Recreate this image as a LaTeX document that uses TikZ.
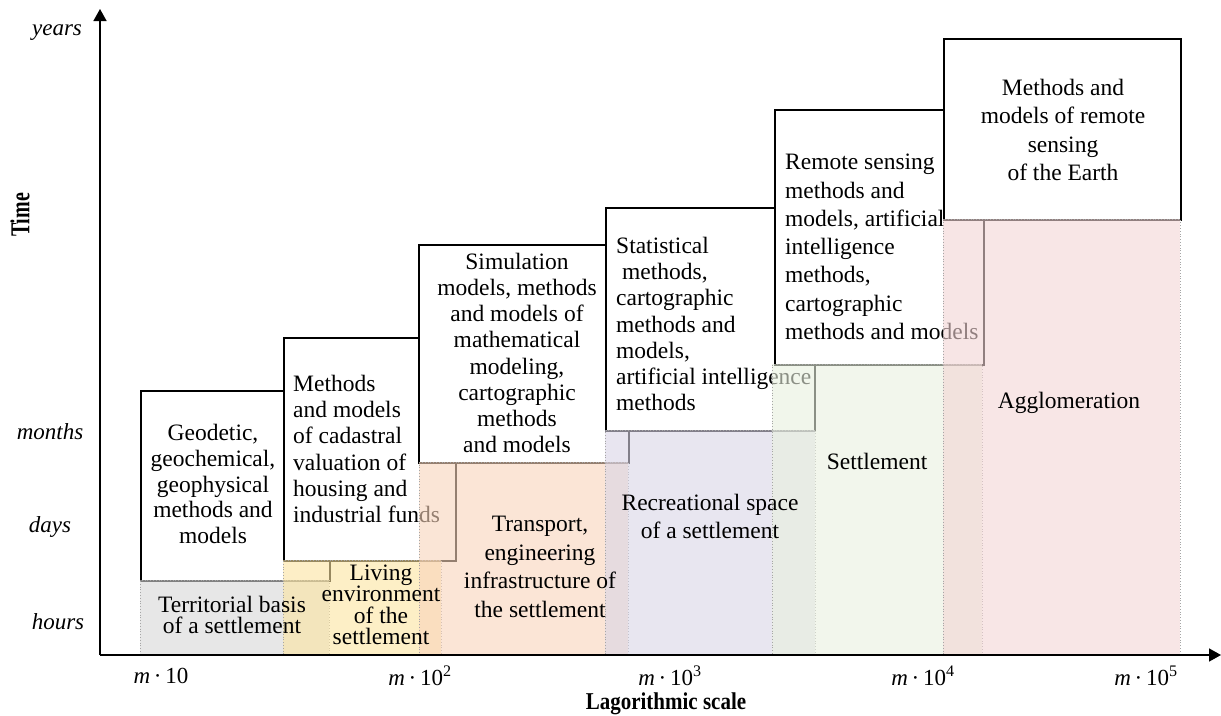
\documentclass[tikz,border=0pt]{standalone}
\usepackage{fontspec}
\usepackage{graphicx}
\setmainfont{Liberation Serif}
\usetikzlibrary{arrows.meta}
\definecolor{zgray}{RGB}{215,215,215}
\definecolor{zyellow}{RGB}{252,228,160}
\definecolor{zorange}{RGB}{248,212,187}
\definecolor{zpurple}{RGB}{217,213,230}
\definecolor{zgreen}{RGB}{233,240,223}
\definecolor{zpink}{RGB}{243,213,213}
\begin{document}
\begin{tikzpicture}[x=1pt,y=-1pt,
  mbox/.style={draw=black, line width=1.8pt, fill=white, inner sep=0pt, anchor=north west},
  zone/.style={draw=gray!70, dotted, line width=0.8pt, fill opacity=0.6, inner sep=0pt, anchor=north west},
  txt/.style={inner sep=0pt, font=\fontsize{23.5}{#1}\selectfont},
  txt/.default=26,
  axlab/.style={inner sep=0pt, font=\fontsize{23}{26}\selectfont\itshape},
  ticklab/.style={inner sep=0pt, font=\fontsize{23}{26}\selectfont},
  axtitle/.style={inner sep=0pt, font=\fontsize{21}{24}\selectfont\bfseries},
  axis/.style={line width=1.6pt, -{Triangle[length=12pt,width=13pt]}}]
\useasboundingbox (0,0) rectangle (1221,715);

% method boxes
\node[mbox, minimum width=189pt, minimum height=190pt] (geo) at (140,390) {};
\node[txt=25.7, align=center] (geot) at (213,484) {Geodetic,\\geochemical,\\geophysical\\methods and\\models};

\node[mbox, minimum width=172pt, minimum height=223pt] (cad) at (283,337) {};
\node[txt=26.3, align=left, anchor=west] (cadt) at (293,449) {Methods\\and models\\of cadastral\\valuation of\\housing and\\industrial funds};

\node[mbox, minimum width=210pt, minimum height=218pt] (sim) at (418,244) {};
\node[txt=26.2, align=center] (simt) at (517,353) {Simulation\\models, methods\\and models of\\mathematical\\modeling,\\cartographic\\methods\\and models};

\node[mbox, minimum width=209pt, minimum height=223pt] (stat) at (605,207) {};
\node[txt=26.3, align=left, anchor=west] (statt) at (616,324) {Statistical\\\hspace*{6pt}methods,\\cartographic\\methods and\\models,\\artificial intelligence\\methods};

\node[mbox, minimum width=209pt, minimum height=255pt] (rem) at (774,109) {};
\node[txt=28.3, align=left, anchor=west] (remt) at (785,247) {Remote sensing\\methods and\\models, artificial\\intelligence\\methods,\\cartographic\\methods and models};

\node[mbox, minimum width=237pt, minimum height=181pt] (earth) at (943,38) {};
\node[txt=28.3, align=center] (eartht) at (1063,130) {Methods and\\models of remote\\sensing\\of the Earth};

% zones
\node[zone, fill=zgray, minimum width=189pt, minimum height=75pt] (terr) at (140,580) {};
\node[zone, fill=zyellow, minimum width=158pt, minimum height=95pt] (liv) at (283,560) {};
\node[zone, fill=zorange, minimum width=209pt, minimum height=193pt] (trans) at (419,462) {};
\node[zone, fill=zpurple, minimum width=210pt, minimum height=225pt] (rec) at (605,430) {};
\node[zone, fill=zgreen, minimum width=210pt, minimum height=291pt] (sett) at (772,364) {};
\node[zone, fill=zpink, minimum width=237pt, minimum height=436pt] (aggl) at (943,219) {};

\node[txt=21.5, align=center] (terrt) at (232,615) {Territorial basis\\of a settlement};
\node[txt=21.5, align=center] (livt) at (381,605) {Living\\environment\\of the\\settlement};
\node[txt=28.5, align=center] (transt) at (540,567) {Transport,\\engineering\\infrastructure of\\the settlement};
\node[txt=28, align=center] (rect) at (710,516) {Recreational space\\of a settlement};
\node[txt] (settt) at (877,461) {Settlement};
\node[txt] (agglt) at (1069,403) {Agglomeration};

% axes
\coordinate (O) at (100,655);
\coordinate (ytip) at (100,9);
\coordinate (xtip) at (1221,655);
\draw[axis] (O) -- (ytip);
\draw[axis] (O) -- (xtip);

\node[axlab] (yl1) at (57,33) {years};
\node[axlab] (yl2) at (50,432) {months};
\node[axlab] (yl3) at (50,527) {days};
\node[axlab] (yl4) at (58,622) {hours};
\node[axtitle, rotate=90] (ttime) at (20,215) {\scalebox{0.95}[1.3]{Time}};

\node[ticklab] (xl1) at (161,676) {\textit{m}\,·\,10};
\node[ticklab] (xl2) at (420,676) {\textit{m}\,·\,10\textsuperscript{2}};
\node[ticklab] (xl3) at (670,676) {\textit{m}\,·\,10\textsuperscript{3}};
\node[ticklab] (xl4) at (923,676) {\textit{m}\,·\,10\textsuperscript{4}};
\node[ticklab] (xl5) at (1146,676) {\textit{m}\,·\,10\textsuperscript{5}};
\node[axtitle] (xtitle) at (666,704) {\scalebox{1}[1.15]{Lagorithmic scale}};
\end{tikzpicture}
\end{document}
